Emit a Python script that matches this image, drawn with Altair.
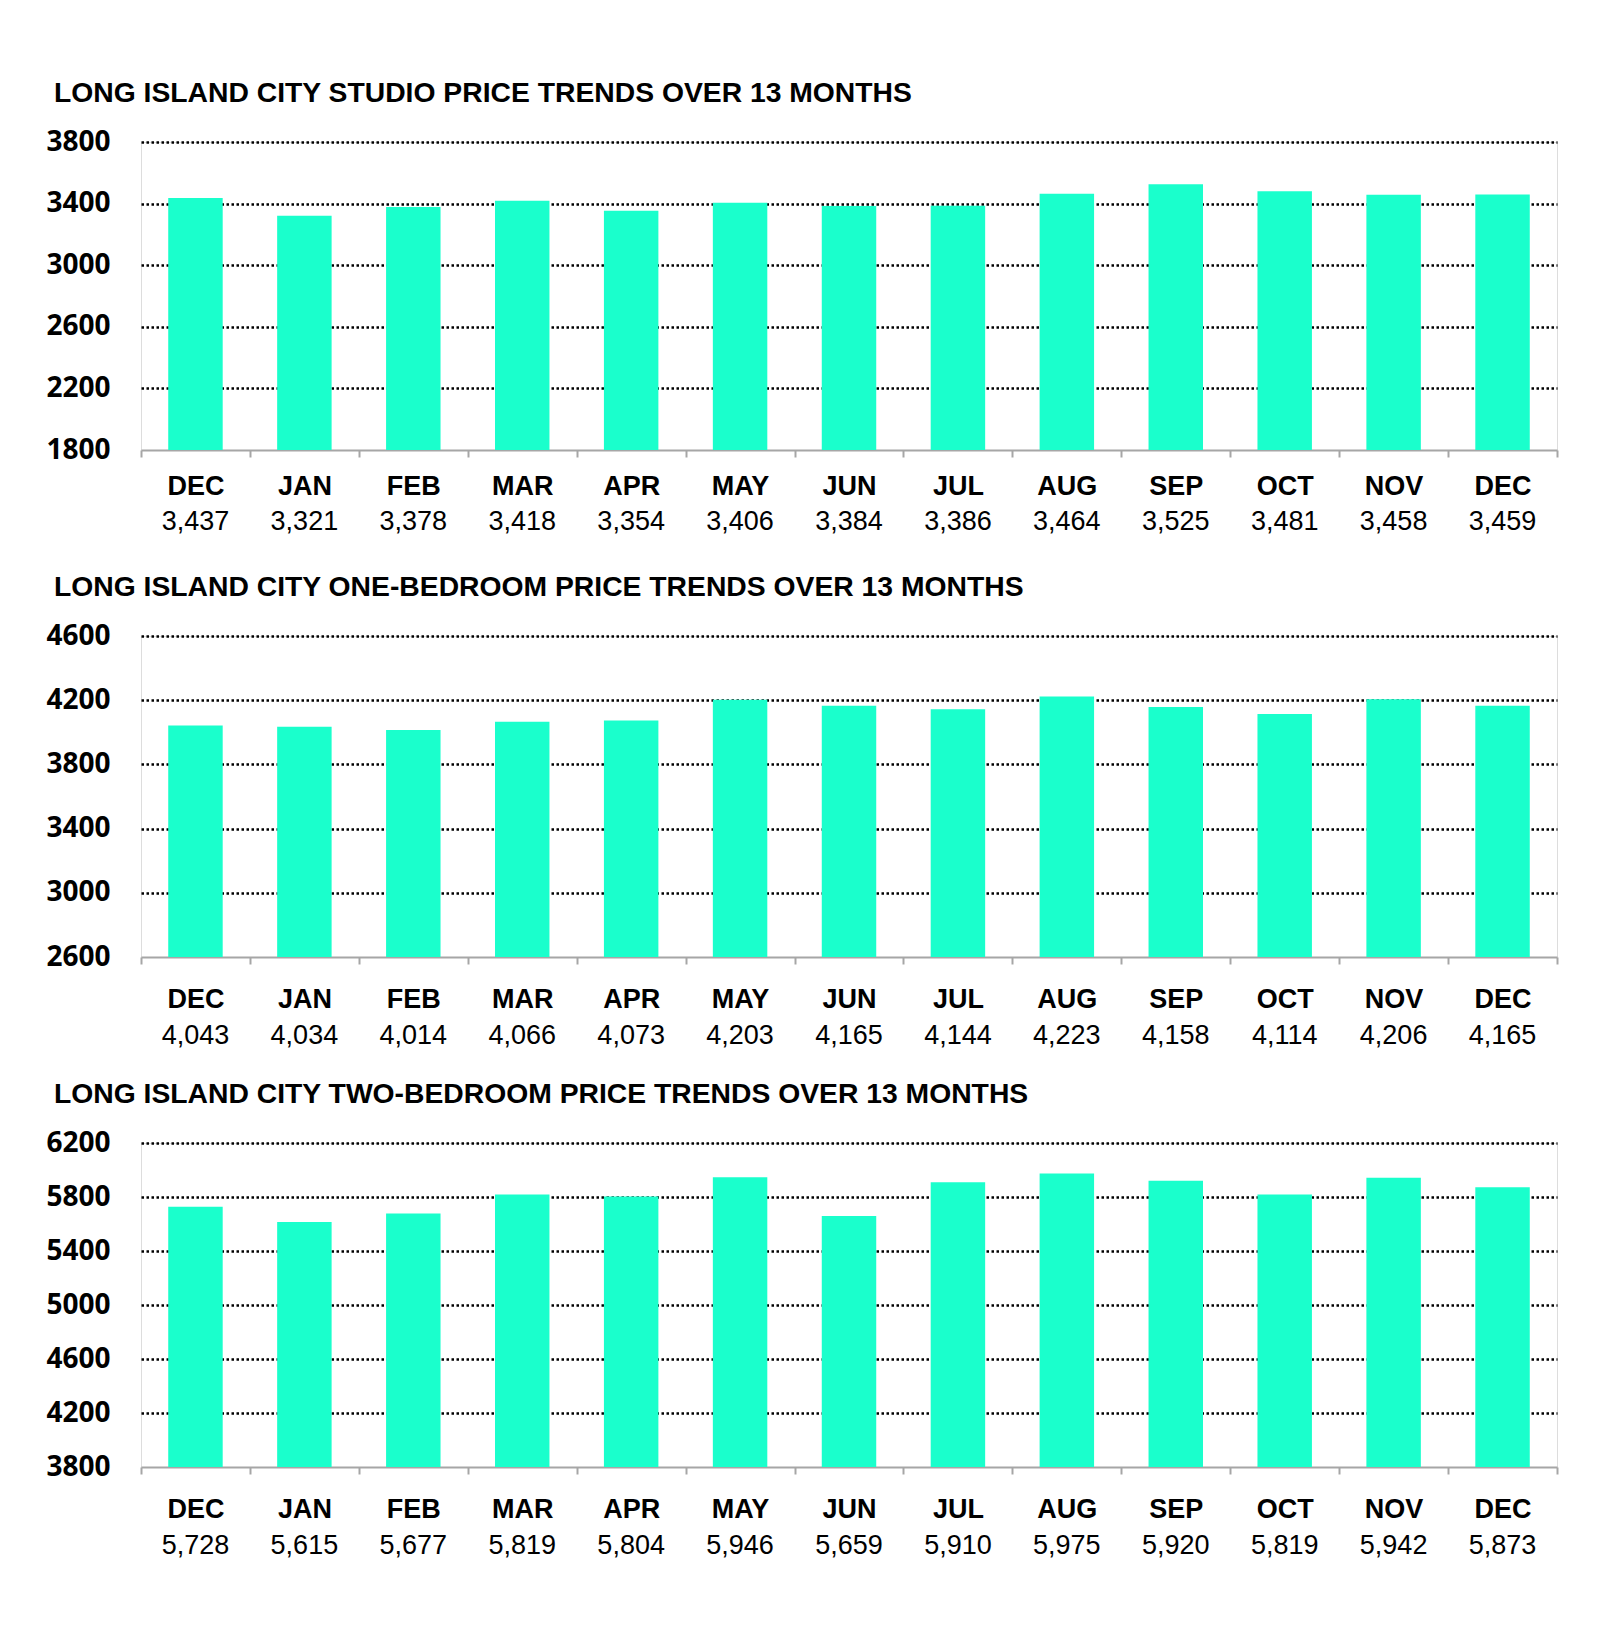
import altair as alt
import pandas as pd

months = ["DEC", "JAN", "FEB", "MAR", "APR", "MAY", "JUN", "JUL", "AUG", "SEP", "OCT", "NOV", "DEC"]
studio = [3437, 3321, 3378, 3418, 3354, 3406, 3384, 3386, 3464, 3525, 3481, 3458, 3459]
one_bed = [4043, 4034, 4014, 4066, 4073, 4203, 4165, 4144, 4223, 4158, 4114, 4206, 4165]
two_bed = [5728, 5615, 5677, 5819, 5804, 5946, 5659, 5910, 5975, 5920, 5819, 5942, 5873]

titles = [
    "LONG ISLAND CITY STUDIO PRICE TRENDS OVER 13 MONTHS",
    "LONG ISLAND CITY ONE-BEDROOM PRICE TRENDS OVER 13 MONTHS",
    "LONG ISLAND CITY TWO-BEDROOM PRICE TRENDS OVER 13 MONTHS",
]
domains = [(1800, 3800), (2600, 4600), (3800, 6200)]
heights = [308, 321, 324]
label_pads = [16, 22, 22]
value_offsets = [72, 79, 79]

BAR = "#1AFFCC"
W = 1416
label_expr = "[" + ",".join("'%s'" % m for m in months) + "][datum.value]"


def panel(values, title, dom, h, lpad, voff):
    df = pd.DataFrame({
        "idx": list(range(len(months))),
        "month": months,
        "value": values,
        "label": [f"{v:,}" for v in values],
    })
    base = alt.Chart(df)
    x = alt.X(
        "idx:O",
        scale=alt.Scale(paddingInner=0, paddingOuter=0),
        axis=alt.Axis(
            title=None,
            labelAngle=0,
            labelExpr=label_expr,
            labelFont="Liberation Sans",
            labelFontSize=27,
            labelFontWeight="bold",
            labelColor="#000000",
            labelPadding=lpad,
            tickBand="extent",
            tickColor="#a6a6a6",
            tickSize=7,
            tickWidth=2,
            domainColor="#a6a6a6",
            domainWidth=2,
            grid=False,
        ),
    )
    bars = base.mark_bar(color=BAR, width={"band": 0.5}).encode(
        x=x,
        y=alt.Y(
            "value:Q",
            scale=alt.Scale(domain=list(dom), nice=False, zero=False),
            axis=alt.Axis(
                title=None,
                values=list(range(dom[0], dom[1] + 1, 400)),
                format="d",
                labelFont="Open Sans",
                labelFontSize=28,
                labelFontWeight="bold",
                labelColor="#000000",
                labelPadding=31,
                ticks=False,
                domain=False,
                grid=True,
                gridColor="#000000",
                gridDash=[2.5, 2.5],
                gridWidth=2.6,
                gridOpacity={"condition": {"test": f"datum.value == {dom[0]}", "value": 0}, "value": 1},
            ),
        ),
        y2=alt.datum(dom[0]),
    )
    texts = base.mark_text(
        font="Liberation Sans", fontSize=27, color="#000000", baseline="middle"
    ).encode(
        x=alt.X("idx:O"),
        y=alt.value(h + voff),
        text="label:N",
    )
    return alt.layer(bars, texts).properties(
        width=W,
        height=h,
        title=alt.TitleParams(
            text=title,
            anchor="start",
            frame="group",
            dx=-87,
            offset=20,
            font="Liberation Sans",
            fontSize=28.3,
            fontWeight="bold",
            color="#000000",
        ),
    )


panels = [
    panel(v, t, d, h, lp, vo)
    for v, t, d, h, lp, vo in zip(
        [studio, one_bed, two_bed], titles, domains, heights, label_pads, value_offsets
    )
]

chart = (
    alt.vconcat(*panels, spacing=186, bounds="flush")
    .properties(padding={"top": 70, "left": 37, "right": 5, "bottom": 5})
    .configure_view(stroke="#d9d9d9", strokeWidth=1.5)
    .configure(background="#ffffff")
)

chart.save("out.html", embed_options={"renderer": "svg", "actions": False})
